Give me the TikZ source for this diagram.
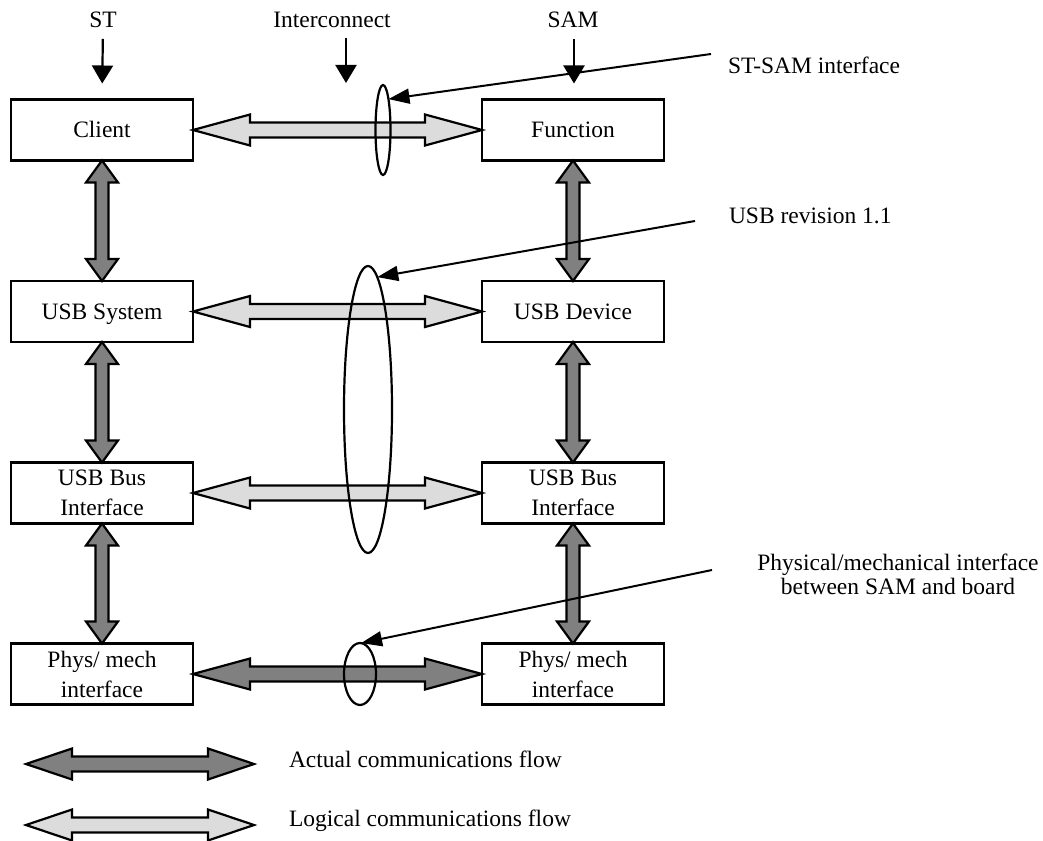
\documentclass[tikz,border=0pt]{standalone}
\usepackage{fontspec}
\setmainfont{Liberation Serif}
\usetikzlibrary{calc,arrows.meta,shapes.geometric}
\definecolor{actualgray}{HTML}{808080}
\definecolor{logicalgray}{HTML}{DCDCDC}
\newcommand{\HFlow}[4]{%
  \draw[#3] (#1) -- ($(#1)+(#4,15.5)$) -- ($(#1)+(#4,7.5)$) -- ($(#2)+(-#4,7.5)$) -- ($(#2)+(-#4,15.5)$) -- (#2)
    -- ($(#2)+(-#4,-15.5)$) -- ($(#2)+(-#4,-7.5)$) -- ($(#1)+(#4,-7.5)$) -- ($(#1)+(#4,-15.5)$) -- cycle;}
\newcommand{\VFlow}[4]{%
  \draw[#3] (#1) -- ($(#1)+(16,#4)$) -- ($(#1)+(6.5,#4)$) -- ($(#2)+(6.5,-#4)$) -- ($(#2)+(16,-#4)$) -- (#2)
    -- ($(#2)+(-16,-#4)$) -- ($(#2)+(-6.5,-#4)$) -- ($(#1)+(-6.5,#4)$) -- ($(#1)+(-16,#4)$) -- cycle;}
\begin{document}
\begin{tikzpicture}[x=1pt,y=-1pt,
  every node/.style={font=\fontsize{23.5}{30}\selectfont},
  box/.style={draw, line width=2.2pt, minimum width=182pt, minimum height=61pt, inner sep=0pt, outer sep=0pt, align=center},
  onebox/.style={box, text height=20pt, text depth=4.5pt},
  lbl/.style={inner sep=0pt, outer sep=0pt},
  actual/.style={draw, line width=2.2pt, fill=actualgray, line join=miter},
  logical/.style={draw, line width=2.2pt, fill=logicalgray, line join=miter},
  ell/.style={draw, ellipse, line width=2.2pt, inner sep=0pt, outer sep=0pt},
  downarrow/.style={line width=2.2pt, -{Triangle[length=18pt,width=21pt]}},
  pointer/.style={line width=2pt, -{Triangle[length=21pt,width=15pt]}}
]
\useasboundingbox (0,0) rectangle (1043,840);

% column headers
\node[lbl] (lST) at (103,20) {ST};
\node[lbl] (lIC) at (332,20) {Interconnect};
\node[lbl] (lSAM) at (573,20) {SAM};

% boxes
\node[onebox] (client) at (102,130) {Client};
\node[onebox] (func) at (573,130) {Function};
\node[onebox] (usys) at (102,311.5) {USB System};
\node[onebox] (udev) at (573,311.5) {USB Device};
\node[box] (ubusL) at (102,493) {USB Bus\\Interface};
\node[box] (ubusR) at (573,493) {USB Bus\\Interface};
\node[box] (physL) at (102,674) {Phys/ mech\\interface};
\node[box] (physR) at (573,674) {Phys/ mech\\interface};

% header arrows
\coordinate (icA) at (346,38);
\coordinate (icB) at (346,83);
\draw[downarrow, shorten <=11pt, shorten >=16pt] (lST.south) -- (client.north);
\draw[downarrow] (icA) -- (icB);
\draw[downarrow, shorten <=11pt, shorten >=16pt] ([xshift=1pt]lSAM.south) -- ([xshift=1pt]func.north);

% vertical actual flows
\VFlow{client.south}{usys.north}{actual}{22}
\VFlow{usys.south}{ubusL.north}{actual}{22}
\VFlow{ubusL.south}{physL.north}{actual}{22}
\VFlow{func.south}{udev.north}{actual}{22}
\VFlow{udev.south}{ubusR.north}{actual}{22}
\VFlow{ubusR.south}{physR.north}{actual}{22}

% horizontal flows
\HFlow{client.east}{func.west}{logical}{57}
\HFlow{usys.east}{udev.west}{logical}{57}
\HFlow{ubusL.east}{ubusR.west}{logical}{57}
\HFlow{physL.east}{physR.west}{actual}{57}

% ellipses
\node[ell, minimum width=15pt, minimum height=90pt] (e1) at (383,130) {};
\node[ell, minimum width=48pt, minimum height=287pt] (e2) at (368,409.5) {};
\node[ell, minimum width=32pt, minimum height=62pt] (e3) at (360,674) {};

% right labels
\node[lbl, anchor=west] (tSTSAM) at (728,65) {ST-SAM interface};
\node[lbl, anchor=west] (tUSB) at (729,216) {USB revision 1.1};
\node[lbl, align=center, font=\fontsize{23.5}{24}\selectfont] (tPhys) at (898,574) {Physical/mechanical interface\\between SAM and board};

% pointer lines
\coordinate (p1) at (711,54);
\coordinate (p2) at (695,221);
\coordinate (p3) at (712,570);
\draw[pointer] (p1) -- (e1.80);
\draw[pointer] (p2) -- (e2.86);
\draw[pointer] (p3) -- (e3.88);

% legend
\coordinate (la1) at (26,764);
\coordinate (la2) at (254,764);
\coordinate (lb1) at (26,825);
\coordinate (lb2) at (254,825);
\HFlow{la1}{la2}{actual}{46}
\HFlow{lb1}{lb2}{logical}{46}
\node[lbl, anchor=base west] (tAct) at (289,767) {Actual communications flow};
\node[lbl, anchor=base west] (tLog) at (289,826) {Logical communications flow};
\end{tikzpicture}
\end{document}
